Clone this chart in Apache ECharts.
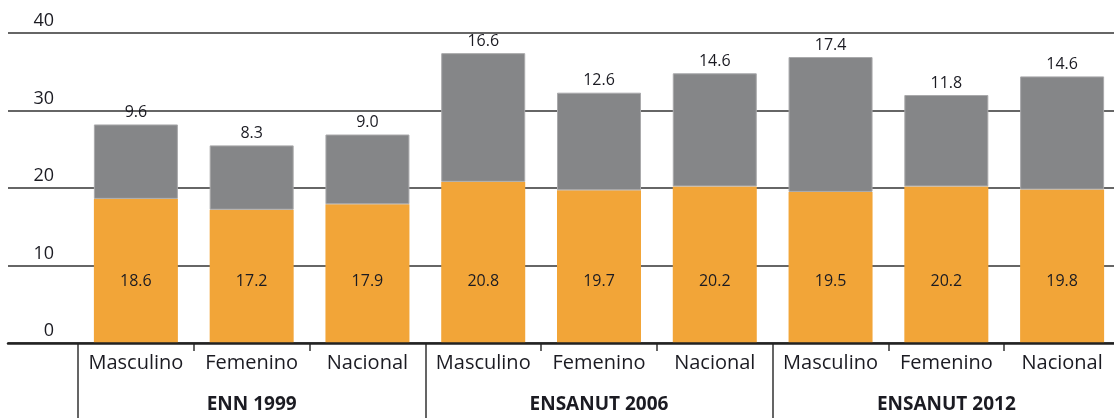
<!DOCTYPE html>
<html>
<head>
<meta charset="utf-8">
<script src="https://cdn.jsdelivr.net/npm/echarts@6/dist/echarts.min.js"></script>
<style>
  html, body { margin: 0; padding: 0; background: #fff; overflow: hidden; }
  #chart { width: 1120px; height: 418px; }
</style>
</head>
<body>
<div id="chart"></div>
<script>
// data
const categories = ['Masculino', 'Femenino', 'Nacional', 'Masculino', 'Femenino', 'Nacional', 'Masculino', 'Femenino', 'Nacional']
const groups = ['ENN 1999', 'ENSANUT 2006', 'ENSANUT 2012']
const bottomValues = [18.6, 17.2, 17.9, 20.8, 19.7, 20.2, 19.5, 20.2, 19.8]
const topValues = [9.6, 8.3, 9.0, 16.6, 12.6, 14.6, 17.4, 11.8, 14.6]
const yTicks = {min: 0, max: 40, interval: 10}

const font = '"Open Sans", sans-serif'
const textColor = '#1b1b22'

// the chart is 6px wider than the window, the last band runs off the edge
let chart = echarts.init(document.getElementById('chart'))

chart.setOption({
    animation: false,
    textStyle: {fontFamily: font},
    grid: [
        // full-width grid: horizontal lines + axis line
        {left: 8, right: 6, top: 33, height: 310},
        // bars grid
        {left: 78, right: 0, top: 33, height: 310}
    ],
    xAxis: [
        {
            gridIndex: 0,
            type: 'value',
            min: 0,
            max: 1,
            z: 10,
            axisLine: {show: true, lineStyle: {color: '#222', width: 2.5}},
            axisTick: {show: false},
            axisLabel: {show: false},
            splitLine: {show: false}
        },
        {
            gridIndex: 1,
            type: 'category',
            data: categories,
            axisLine: {show: false},
            axisTick: {show: true, length: 8, interval: 0, lineStyle: {color: '#333', width: 1.5}},
            axisLabel: {interval: 0, margin: 10, fontSize: 20, color: textColor, fontFamily: font}
        },
        {
            gridIndex: 1,
            type: 'category',
            data: groups,
            position: 'bottom',
            axisLine: {show: false},
            axisTick: {show: true, length: 75, interval: 0, lineStyle: {color: '#333', width: 1.5}},
            axisLabel: {interval: 0, margin: 52, fontSize: 19, fontWeight: 'bold', color: textColor, fontFamily: font}
        }
    ],
    yAxis: [
        {
            gridIndex: 0,
            type: 'value',
            min: yTicks.min,
            max: yTicks.max,
            interval: yTicks.interval,
            axisLine: {show: false},
            axisTick: {show: false},
            splitLine: {show: true, lineStyle: {color: '#333', width: 1.5}},
            axisLabel: {
                inside: true,
                margin: 46,
                align: 'right',
                verticalAlign: 'bottom',
                padding: [0, 0, 3, 0],
                fontSize: 18,
                color: textColor,
                fontFamily: font
            }
        },
        {
            gridIndex: 1,
            type: 'value',
            min: yTicks.min,
            max: yTicks.max,
            show: false
        }
    ],
    series: [
        {
            type: 'bar',
            stack: 'total',
            xAxisIndex: 1,
            yAxisIndex: 1,
            barWidth: 84,
            data: bottomValues,
            itemStyle: {color: '#f2a538'},
            label: {
                show: true,
                position: 'insideBottom',
                distance: 54,
                fontSize: 16,
                color: textColor,
                fontFamily: font,
                formatter: p => p.value.toFixed(1)
            }
        },
        {
            type: 'bar',
            stack: 'total',
            xAxisIndex: 1,
            yAxisIndex: 1,
            barWidth: 84,
            data: topValues,
            itemStyle: {color: '#858688', borderColor: '#a9a9ab', borderWidth: 1},
            label: {
                show: true,
                position: 'top',
                distance: 4,
                fontSize: 16,
                color: textColor,
                fontFamily: font,
                formatter: p => p.value.toFixed(1)
            }
        }
    ]
})
</script>
</body>
</html>
